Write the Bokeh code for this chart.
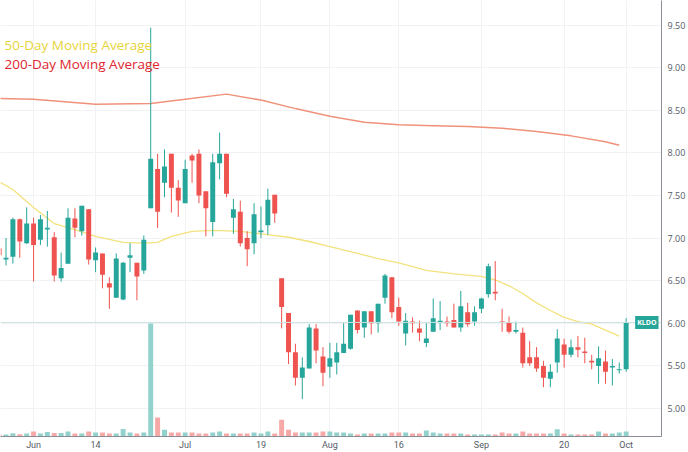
import pandas as pd
from bokeh.plotting import figure
from bokeh.models import (Range1d, FixedTicker, NumeralTickFormatter,
                          Label, Span, ColumnDataSource)
from bokeh.embed import file_html
from bokeh.resources import INLINE

# ---------------- data ----------------
holidays = ["2021-05-31", "2021-07-05", "2021-09-06"]
dates = [d.strftime("%Y-%m-%d") for d in pd.bdate_range("2021-05-24", "2021-10-01")
         if d.strftime("%Y-%m-%d") not in holidays]

opens = [6.88, 6.75, 6.78, 7.22, 6.94, 7.17, 6.98, 7.10, 7.01, 6.53,
         6.70, 7.23, 7.08, 7.34, 6.74, 6.82, 6.47, 6.30, 6.28, 6.77,
         6.71, 6.62, 7.35, 7.81, 7.65, 7.99, 7.59, 7.41, 7.97, 7.99,
         7.55, 7.19, 7.88, 7.99, 7.24, 7.31, 7.00, 6.94, 7.07, 7.15,
         7.51, 6.53, 6.12, 5.66, 5.36, 5.47, 5.94, 5.61, 5.49, 5.54,
         5.65, 5.70, 6.15, 5.95, 6.14, 6.00, 6.30, 6.54, 6.19, 5.88,
         6.02, 5.94, 5.77, 5.90, 6.01, 6.02, 6.04, 5.95, 6.13, 6.02,
         6.17, 6.34, 6.37, 6.02, 6.01, 5.90, 5.89, 5.60, 5.60, 5.50,
         5.35, 5.54, 5.75, 5.63, 5.72, 5.67, 5.56, 5.50, 5.55, 5.48,
         5.45, 5.46]
highs = [6.92, 7.00, 7.24, 7.23, 7.36, 7.24, 7.27, 7.32, 7.07, 6.83,
         7.35, 7.35, 7.38, 7.34, 6.89, 6.82, 6.54, 6.82, 6.72, 6.94,
         6.71, 7.03, 9.47, 7.99, 8.04, 7.99, 7.68, 7.92, 7.99, 8.04,
         7.55, 7.99, 8.24, 7.99, 7.46, 7.44, 7.08, 7.41, 7.37, 7.58,
         7.51, 6.53, 6.12, 5.76, 5.60, 5.99, 5.99, 5.72, 5.77, 5.77,
         6.00, 6.10, 6.15, 6.14, 6.14, 6.23, 6.58, 6.54, 6.30, 6.12,
         6.07, 6.03, 6.00, 6.29, 6.26, 6.08, 6.23, 6.38, 6.24, 6.20,
         6.30, 6.70, 6.73, 6.17, 6.08, 6.02, 5.95, 5.79, 5.72, 5.56,
         5.52, 5.93, 5.82, 5.81, 5.85, 5.83, 5.63, 5.73, 5.68, 5.58,
         5.54, 6.06]
lows = [6.75, 6.68, 6.70, 6.77, 6.93, 6.49, 6.92, 6.90, 6.49, 6.49,
        6.70, 7.01, 7.03, 6.69, 6.60, 6.41, 6.17, 6.30, 6.27, 6.60,
        6.27, 6.58, 7.35, 7.12, 7.48, 7.30, 7.25, 7.41, 7.65, 7.41,
        7.02, 7.02, 7.69, 7.48, 7.05, 6.90, 6.67, 6.81, 7.00, 7.04,
        7.18, 5.94, 5.52, 5.27, 5.11, 5.47, 5.53, 5.26, 5.36, 5.40,
        5.65, 5.69, 5.88, 5.83, 5.87, 5.89, 6.23, 6.06, 5.97, 5.74,
        5.89, 5.79, 5.72, 5.90, 5.92, 5.96, 5.95, 5.90, 5.96, 5.97,
        6.12, 6.30, 6.27, 5.90, 5.88, 5.88, 5.48, 5.50, 5.43, 5.25,
        5.25, 5.42, 5.48, 5.60, 5.60, 5.53, 5.46, 5.29, 5.29, 5.27,
        5.41, 5.43]
closes = [6.80, 6.77, 7.22, 6.96, 7.17, 6.92, 7.22, 7.12, 6.56, 6.65,
          7.24, 7.12, 7.38, 6.75, 6.83, 6.57, 6.42, 6.76, 6.71, 6.80,
          6.55, 6.98, 7.93, 7.31, 7.84, 7.59, 7.44, 7.81, 7.91, 7.50,
          7.35, 7.89, 7.99, 7.52, 7.34, 6.94, 6.87, 7.28, 7.09, 7.45,
          7.29, 6.19, 5.66, 5.36, 5.48, 5.95, 5.68, 5.42, 5.59, 5.66,
          5.76, 6.10, 5.92, 6.14, 6.00, 6.23, 6.56, 6.13, 6.02, 6.03,
          6.00, 5.89, 5.82, 6.06, 6.03, 6.00, 5.95, 6.20, 5.99, 6.13,
          6.29, 6.67, 6.35, 6.01, 5.90, 5.92, 5.53, 5.53, 5.47, 5.36,
          5.43, 5.82, 5.63, 5.72, 5.69, 5.65, 5.54, 5.59, 5.43, 5.50,
          5.46, 6.01]
volumes_k = [100, 100, 165, 115, 150, 250, 150, 225, 175, 175,
             250, 150, 150, 250, 200, 200, 150, 150, 375, 200,
             150, 200, 5650, 950, 335, 200, 200, 200, 200, 150,
             150, 200, 250, 150, 150, 150, 150, 200, 150, 250,
             150, 835, 335, 200, 200, 200, 200, 250, 250, 200,
             200, 150, 100, 150, 150, 150, 150, 200, 200, 200,
             150, 150, 300, 200, 150, 150, 150, 150, 100, 100,
             100, 100, 100, 200, 150, 150, 250, 150, 150, 150,
             150, 365, 150, 100, 100, 100, 100, 250, 150, 150,
             200, 250]

ma50_dates = ["2021-05-24", "2021-05-26", "2021-06-01", "2021-06-04", "2021-06-09",
              "2021-06-14", "2021-06-18", "2021-06-23", "2021-06-25", "2021-06-29",
              "2021-07-02", "2021-07-08", "2021-07-14", "2021-07-19", "2021-07-23",
              "2021-07-28", "2021-08-02", "2021-08-06", "2021-08-11", "2021-08-16",
              "2021-08-20", "2021-08-26", "2021-09-01", "2021-09-03", "2021-09-08",
              "2021-09-10", "2021-09-14", "2021-09-16", "2021-09-20", "2021-09-22",
              "2021-09-24", "2021-09-28", "2021-09-30"]
ma50 = [7.66, 7.57, 7.36, 7.17, 7.10, 7.02, 6.95, 6.94, 6.95, 7.02,
        7.08, 7.09, 7.08, 7.05, 7.01, 6.96, 6.90, 6.82, 6.76, 6.71,
        6.62, 6.58, 6.55, 6.51, 6.44, 6.35, 6.24, 6.15, 6.07, 6.02,
        5.99, 5.92, 5.85]

ma200_dates = ["2021-05-24", "2021-06-01", "2021-06-14", "2021-06-24", "2021-07-01",
               "2021-07-12", "2021-07-19", "2021-07-26", "2021-08-02", "2021-08-09",
               "2021-08-16", "2021-08-23", "2021-08-30", "2021-09-07", "2021-09-14",
               "2021-09-21", "2021-09-28", "2021-09-30"]
ma200 = [8.64, 8.63, 8.57, 8.58, 8.63, 8.69, 8.62, 8.52, 8.43, 8.36,
         8.33, 8.32, 8.31, 8.29, 8.25, 8.20, 8.13, 8.09]

tick_dates = ["2021-06-01", "2021-06-14", "2021-07-01", "2021-07-19", "2021-08-02",
              "2021-08-16", "2021-09-01", "2021-09-20", "2021-10-01"]
tick_labels = ["Jun", "14", "Jul", "19", "Aug", "16", "Sep", "20", "Oct"]
price_ticks = [5.0, 5.5, 6.0, 6.5, 7.0, 7.5, 8.0, 8.5, 9.0, 9.5]

symbol = "KLDO"

# ---------------- styling ----------------
UP = "#26a69a"
DOWN = "#ef5350"
UP_VOL = "#93d2cc"
DOWN_VOL = "#f7a9a7"
MA50_COLOR = "#f3e27e"
MA200_COLOR = "#f0927a"
GRID = "#f0f2f6"
AXIS = "#8a8d95"
LABEL = "#555a66"

pos = {d: i for i, d in enumerate(dates)}
idx = list(range(len(dates)))
up = [c >= o for o, c in zip(opens, closes)]

src = ColumnDataSource(dict(
    x=idx, o=opens, h=highs, l=lows, c=closes,
    top=[max(o, c) for o, c in zip(opens, closes)],
    bottom=[min(o, c) for o, c in zip(opens, closes)],
    color=[UP if u else DOWN for u in up],
    vcolor=[UP_VOL if u else DOWN_VOL for u in up],
    vol=volumes_k,
))

p = figure(width=688, height=452, output_backend="svg", toolbar_location=None,
           x_range=Range1d(0.2, 96.13), y_range=Range1d(4.671, 9.789),
           y_axis_location="right", min_border=0, min_border_right=3)
p.outline_line_color = None
p.background_fill_color = "white"
p.border_fill_color = "white"
p.extra_y_ranges = {"vol": Range1d(0, 21800)}

# axes
p.xaxis.ticker = FixedTicker(ticks=[pos[d] for d in tick_dates])
p.xaxis.major_label_overrides = {pos[d]: t for d, t in zip(tick_dates, tick_labels)}
p.yaxis.ticker = FixedTicker(ticks=price_ticks)
p.yaxis.formatter = NumeralTickFormatter(format="0.00")
for ax in (p.xaxis, p.yaxis):
    ax.axis_line_color = AXIS
    ax.axis_line_width = 1
    ax.major_tick_line_color = None
    ax.minor_tick_line_color = None
    ax.major_tick_out = 0
    ax.major_tick_in = 0
    ax.minor_tick_out = 0
    ax.major_label_text_color = LABEL
    ax.major_label_text_font_size = "9px"
p.xaxis.major_label_text_font = "Roboto"
p.yaxis.major_label_text_font = "Open Sans"
p.xaxis.major_label_standoff = 3
p.yaxis.major_label_standoff = 6

p.xgrid.ticker = FixedTicker(ticks=[pos[d] for d in tick_dates])
p.ygrid.ticker = FixedTicker(ticks=price_ticks)
p.grid.grid_line_color = GRID
p.grid.grid_line_width = 1

# volume
p.vbar(x="x", width=0.72, top="vol", bottom=0, y_range_name="vol",
       fill_color="vcolor", line_color=None, source=src)

# last price line
p.add_layout(Span(location=closes[-1], dimension="width", line_color="#cfe2e0", line_width=1))

# moving averages
p.line([pos[d] for d in ma200_dates], ma200, line_color=MA200_COLOR, line_width=1.5)
p.line([pos[d] for d in ma50_dates], ma50, line_color=MA50_COLOR, line_width=1.3)

# candles
p.segment(x0="x", y0="l", x1="x", y1="h", line_color="color", line_width=1, source=src)
p.vbar(x="x", width=0.72, top="top", bottom="bottom", fill_color="color",
       line_color=None, source=src)

# legend texts
p.add_layout(Label(x=4, y=392, x_units="screen", y_units="screen",
                   text="50-Day Moving Average", text_color="#e6d43a",
                   text_font="Open Sans", text_font_size="13.5px", text_baseline="middle"))
p.add_layout(Label(x=4, y=373, x_units="screen", y_units="screen",
                   text="200-Day Moving Average", text_color="#e0262f",
                   text_font="Open Sans", text_font_size="13.5px", text_baseline="middle"))

# symbol price tag
p.add_layout(Label(x=96.13, y=closes[-1], text=symbol, text_align="right",
                   text_baseline="middle", x_offset=-3, text_color="white",
                   text_font="Open Sans", text_font_size="7px", text_font_style="bold",
                   background_fill_color=UP, padding=2))

open("out.html", "w").write(file_html(p, INLINE))
